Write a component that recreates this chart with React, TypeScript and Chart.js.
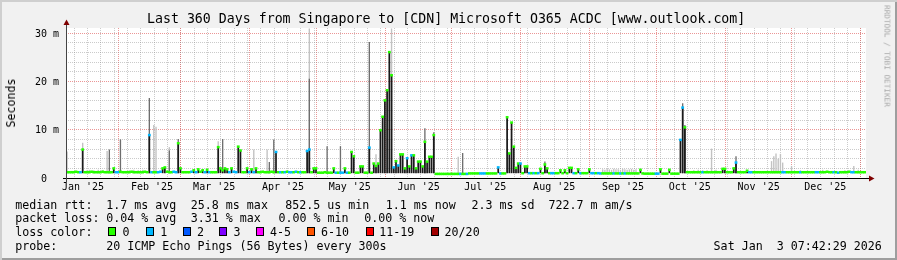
import React, { useEffect, useRef } from 'react';
import { Chart, registerables } from 'chart.js';

Chart.register(...registerables);

// ---------- axis definitions (x in days since 2025-01-01 00:00) ----------
const axisStartDay = 7.32; // Jan 8 2025 07:42
const axisEndDay = 367.32; // Jan 3 2026 07:42
const monthStartDays = [31, 59, 90, 120, 151, 181, 212, 243, 273, 304, 334, 365];
const monthLabelDays = [15, 46, 74, 105, 135, 166, 196, 227, 258, 288, 319, 349];
const monthLabels = ["Jan '25", "Feb '25", "Mar '25", "Apr '25", "May '25", "Jun '25", "Jul '25", "Aug '25", "Sep '25", "Oct '25", "Nov '25", "Dec '25"];
const minorGridFirstDay = 11;
const minorGridStepDays = 6;

const yMaxMs = 31.1;
const yGridStepMs = 2;
const yLabelValues = [0, 10, 20, 30];
const yLabels = ['0  ', '10 m', '20 m', '30 m'];

// ---------- data (milliseconds), one value per day, day 0 = Jan 8 2025 ----------
const medianMs = [
  1.2, 1.2, 1.2, 1.2, 1.3, 1.2, 1.2, 5.9, 1.2, 1.2, 1.2, 1.3, 1.2, 1.2, 1.2, 1.2, 1.3, 1.2, 1.2, 1.2,
  1.2, 2.0, 1.2, 1.2, 1.3, 1.2, 1.2, 1.2, 1.2, 1.3, 1.2, 1.2, 1.2, 1.2, 1.2, 1.3, 1.2, 8.9, 1.2, 1.2,
  1.2, 1.2, 1.3, 2.0, 2.2, 1.3, 1.2, 1.2, 1.3, 1.2, 7.2, 2.0, 1.2, 1.2, 1.2, 1.2, 1.3, 1.6, 1.2, 1.8,
  1.3, 1.6, 1.2, 1.7, 1.2, 1.2, 1.2, 1.2, 6.4, 2.0, 1.6, 2.0, 1.8, 1.2, 2.0, 1.3, 1.2, 6.5, 5.7, 1.2,
  1.2, 2.0, 1.2, 1.8, 1.2, 2.0, 1.2, 1.2, 1.3, 1.2, 1.2, 1.2, 1.3, 1.2, 5.4, 1.2, 1.2, 1.2, 1.2, 1.3,
  1.2, 1.2, 1.2, 1.3, 1.2, 1.2, 1.2, 1.2, 5.6, 5.9, 1.2, 2.0, 2.0, 1.1, 1.1, 1.1, 1.2, 1.1, 1.1, 1.1,
  2.0, 1.1, 1.1, 1.1, 1.1, 2.0, 1.1, 1.1, 5.4, 4.5, 1.1, 1.1, 2.4, 2.4, 1.1, 1.1, 6.3, 1.1, 3.0, 2.5,
  3.0, 9.9, 12.7, 16.1, 18.2, 26.1, 21.3, 2.2, 3.5, 2.6, 4.9, 4.9, 2.0, 4.1, 2.4, 4.7, 4.7, 2.0, 3.4, 3.4,
  2.4, 7.5, 3.4, 4.4, 4.4, 8.9, 0.85, 0.85, 0.85, 0.85, 0.85, 0.85, 0.85, 0.85, 0.85, 0.85, 0.85, 0.85, 0.85, 0.85,
  0.85, 0.95, 0.95, 0.95, 0.95, 0.95, 0.95, 0.95, 0.95, 0.95, 0.95, 0.95, 0.95, 0.95, 2.2, 0.95, 0.95, 0.95, 12.6, 5.1,
  11.5, 6.5, 2.1, 3.0, 3.0, 1.0, 2.4, 2.4, 1.0, 1.0, 1.0, 1.0, 1.0, 1.9, 1.0, 2.8, 2.0, 1.0, 1.0, 1.0,
  1.0, 1.0, 1.6, 1.0, 1.6, 1.0, 2.1, 2.1, 1.0, 1.0, 1.8, 1.0, 1.0, 1.0, 1.0, 1.8, 1.0, 1.0, 1.0, 1.0,
  0.95, 0.95, 0.95, 0.95, 0.95, 0.95, 0.95, 0.95, 0.95, 0.95, 0.95, 0.95, 0.95, 0.95, 0.95, 0.95, 0.95, 0.95, 1.7, 0.95,
  0.9, 0.9, 0.9, 0.9, 0.9, 0.9, 0.9, 1.8, 0.9, 0.9, 0.9, 1.7, 0.9, 0.9, 0.9, 0.9, 7.9, 14.6, 10.5, 1.2,
  1.2, 1.2, 1.2, 1.2, 1.2, 1.2, 1.2, 1.2, 1.2, 1.2, 1.2, 1.2, 1.2, 1.2, 1.2, 1.9, 1.9, 1.2, 1.2, 1.2,
  2.0, 3.2, 1.2, 1.2, 1.2, 1.2, 1.5, 1.2, 1.2, 1.2, 1.2, 1.2, 1.2, 1.2, 1.2, 1.2, 1.2, 1.2, 1.2, 1.2,
  1.2, 1.2, 1.2, 1.2, 1.2, 1.2, 1.2, 1.2, 1.2, 1.2, 1.2, 1.2, 1.2, 1.2, 1.2, 1.2, 1.2, 1.2, 1.2, 1.2,
  1.2, 1.2, 1.3, 1.2, 1.2, 1.2, 1.2, 1.1, 1.2, 1.2, 1.2, 1.2, 1.3, 1.2, 1.2, 1.2, 1.2, 1.2, 1.2, 1.2,
];

// days whose median had 1 lost ping (cyan) — all others 0 loss (green)
const cyanDays = [6, 22, 23, 37, 38, 41, 42, 48, 49, 56, 58, 62, 64, 73, 75, 76, 82, 84, 94, 96, 98, 100, 101, 103, 105, 108, 109, 121, 123, 124, 126, 136, 147, 149, 153, 155, 177, 180, 186, 187, 188, 194, 195, 204, 208, 210, 212, 218, 219, 228, 231, 236, 237, 239, 240, 246, 249, 251, 265, 266, 276, 277, 286, 301, 307, 308, 322, 323, 330, 337, 338, 345, 347, 353, 354];

// smoke (ping spread): dense / medium / sparse
const smokeFloorMs = 1.0;
const darkDays = [7, 21, 37, 43, 44, 50, 51, 57, 59, 61, 63, 68, 69, 70, 71, 72, 74, 77, 78, 81, 83, 85, 94, 108, 109, 111, 112, 120, 125, 128, 129, 132, 133, 136, 138, 139, 140, 141, 142, 143, 144, 145, 146, 147, 148, 149, 150, 151, 152, 153, 154, 155, 156, 157, 158, 159, 160, 161, 162, 163, 164, 165, 194, 198, 199, 200, 201, 202, 203, 204, 206, 207, 213, 215, 216, 222, 224, 226, 227, 230, 235, 258, 267, 271, 276, 277, 278, 295, 296, 300, 301, 306];
const darkTopMs = [5.9, 2.0, 8.9, 2.0, 2.2, 7.2, 2.0, 1.6, 1.8, 1.6, 1.7, 6.4, 2.0, 1.6, 2.0, 1.8, 2.0, 6.5, 5.7, 2.0, 1.8, 2.0, 5.4, 5.6, 5.9, 2.0, 2.0, 2.0, 2.0, 5.4, 4.5, 2.4, 2.4, 6.3, 3.0, 2.5, 3.0, 9.9, 12.7, 16.1, 18.2, 26.1, 21.3, 2.2, 3.5, 2.6, 4.9, 4.9, 2.0, 4.1, 2.4, 4.7, 4.7, 2.0, 3.4, 3.4, 2.4, 7.5, 3.4, 4.4, 4.4, 8.9, 2.2, 12.6, 5.1, 11.5, 6.5, 2.1, 3.0, 3.0, 2.4, 2.4, 1.9, 2.8, 2.0, 1.6, 1.6, 2.1, 2.1, 1.8, 1.8, 1.7, 1.8, 1.7, 7.9, 14.6, 10.5, 1.9, 1.9, 2.0, 3.2, 1.5];
const greyDays = [19, 24, 37, 46, 50, 70, 91, 93, 109, 117, 123, 136, 161, 165, 178, 215, 277, 278, 301];
const greyTopMs = [5.9, 8.0, 16.6, 5.7, 8.1, 8.1, 3.3, 8.0, 20.6, 6.6, 6.6, 28.2, 10.3, 9.5, 5.2, 3.4, 15.5, 11.0, 4.5];
const lightDays = [0, 7, 9, 10, 12, 14, 16, 18, 28, 30, 32, 34, 39, 40, 46, 68, 84, 90, 109, 139, 146, 176, 241, 242, 243, 244, 245, 246, 247, 248, 249, 250, 251, 252, 253, 254, 255, 256, 282, 284, 286, 288, 290, 292, 317, 318, 319, 320, 321, 322, 326, 330, 340, 350, 354, 356];
const lightTopMs = [5.5, 7.3, 1.6, 1.7, 1.6, 1.7, 1.6, 5.6, 1.6, 1.7, 1.6, 1.7, 11.0, 10.6, 6.4, 7.6, 5.9, 5.9, 31, 4.9, 31, 4.4, 1.8, 1.7, 1.9, 1.8, 1.7, 1.9, 1.8, 1.8, 1.7, 1.9, 1.8, 1.7, 1.8, 1.9, 1.7, 1.8, 1.6, 1.7, 1.6, 1.6, 6.1, 1.7, 3.5, 4.5, 5.1, 4.0, 5.0, 3.2, 2.5, 1.6, 1.7, 1.6, 2.5, 1.7];

// ---------- legend text ----------
const titleText = 'Last 360 Days from Singapore to [CDN] Microsoft O365 ACDC [www.outlook.com]';
const legendRow1: [number, string][] = [[15.3, 'median rtt:'], [106.3, '1.7 ms avg'], [190.8, '25.8 ms max'], [285.2, '852.5 us min'], [385.8, '1.1 ms now'], [471.4, '2.3 ms sd'], [548.5, '722.7 m am/s']];
const legendRow2: [number, string][] = [[15.3, 'packet loss:'], [106.3, '0.04 % avg'], [190.8, '3.31 % max'], [278.5, '0.00 % min'], [364.2, '0.00 % now']];
const lossLabels = ['0', '1', '2', '3', '4-5', '6-10', '11-19', '20/20'];
const lossColors = ['#26ff00', '#00b8ff', '#0059ff', '#7e00ff', '#ff00ff', '#ff5500', '#ff0000', '#a10000'];
const lossBoxX = [108.3, 145.7, 182.7, 219.3, 256, 307.3, 365.7, 431];
const lossLabelX = [122.6, 160.3, 197, 233.6, 270, 321, 379.3, 444.6];
const probeText = '20 ICMP Echo Pings (56 Bytes) every 300s';
const dateText = 'Sat Jan  3 07:42:29 2026';

const MONO = "'DejaVu Sans Mono', monospace";
const GREEN = lossColors[0];
const CYAN = lossColors[1];
const minorGridColor = 'rgba(140,140,140,0.45)';
const majorGridColor = 'rgba(222,80,80,0.6)';

const dayX = (i: number) => axisStartDay + i + 0.5;

const framePlugin = {
  id: 'rrdFrame',
  beforeDraw(chart: any) {
    const { ctx, chartArea: a } = chart;
    ctx.save();
    ctx.fillStyle = '#ffffff';
    ctx.fillRect(a.left, a.top, a.right - a.left, a.bottom - a.top);
    ctx.restore();
  },
  afterDraw(chart: any) {
    const { ctx, chartArea: a } = chart;
    const yAx = a.left + 0.5;
    const xAx = a.bottom + 0.5;
    ctx.save();
    ctx.lineWidth = 1;
    ctx.strokeStyle = '#000000';
    ctx.beginPath();
    ctx.moveTo(a.left - 3, xAx);
    ctx.lineTo(a.right + 3, xAx);
    ctx.stroke();
    ctx.strokeStyle = '#444444';
    ctx.beginPath();
    ctx.moveTo(yAx, a.bottom + 4);
    ctx.lineTo(yAx, a.top - 3);
    ctx.stroke();
    ctx.fillStyle = '#7f0000';
    ctx.beginPath();
    ctx.moveTo(a.right + 3, xAx - 3);
    ctx.lineTo(a.right + 8.5, xAx);
    ctx.lineTo(a.right + 3, xAx + 3);
    ctx.closePath();
    ctx.fill();
    ctx.beginPath();
    ctx.moveTo(yAx - 3, a.top - 3);
    ctx.lineTo(yAx, a.top - 8.5);
    ctx.lineTo(yAx + 3, a.top - 3);
    ctx.closePath();
    ctx.fill();
    ctx.restore();
  },
};

export default function App() {
  const canvasRef = useRef<HTMLCanvasElement>(null);

  useEffect(() => {
    const canvas = canvasRef.current;
    if (!canvas) return;
    const cyanSet = new Set(cyanDays);

    const medianData = medianMs.map((v, i) => ({ x: dayX(i), y: v }));
    const darkData = darkDays.map((d, i) => ({ x: dayX(d), y: [smokeFloorMs, darkTopMs[i]] }));
    const greyData = greyDays.map((d, i) => ({ x: dayX(d), y: [smokeFloorMs, greyTopMs[i]] }));
    const lightData = lightDays.map((d, i) => ({ x: dayX(d), y: [smokeFloorMs, lightTopMs[i]] }));

    const barCommon = {
      type: 'bar' as const,
      grouped: false,
      categoryPercentage: 1,
      borderWidth: 0,
    };

    const minorGridDays: number[] = [];
    for (let d = minorGridFirstDay; d < axisEndDay; d += minorGridStepDays) minorGridDays.push(d);
    const yGridValues: number[] = [];
    for (let v = 0; v <= yMaxMs; v += yGridStepMs) yGridValues.push(v);

    const chart = new Chart(canvas, {
      type: 'bar',
      data: {
        datasets: [
          {
            type: 'line',
            label: 'median',
            data: medianData as any,
            showLine: false,
            pointStyle: 'line',
            pointRadius: 1.4,
            pointBorderWidth: 2.5,
            pointBorderColor: (c: any) => (cyanSet.has(c.dataIndex) ? CYAN : GREEN),
            order: 0,
          } as any,
          { ...barCommon, barPercentage: 0.78, label: 'dense smoke', data: darkData as any, backgroundColor: '#1a1a1a', order: 1 },
          { ...barCommon, barPercentage: 0.6, label: 'smoke', data: greyData as any, backgroundColor: '#6e6e6e', order: 2 },
          { ...barCommon, barPercentage: 0.62, label: 'sparse smoke', data: lightData as any, backgroundColor: '#c2c2c2', order: 3 },
        ],
      },
      options: {
        responsive: false,
        maintainAspectRatio: false,
        devicePixelRatio: 1,
        animation: false,
        events: [],
        layout: { padding: { left: 0, top: 28, right: 31, bottom: 62 } },
        plugins: { legend: { display: false }, tooltip: { enabled: false }, title: { display: false } },
        scales: {
          x: {
            type: 'linear',
            min: axisStartDay,
            max: axisEndDay,
            offset: false,
            afterFit: (s: any) => {
              s.height = 20;
            },
            afterBuildTicks: (s: any) => {
              const t: any[] = [];
              monthLabelDays.forEach((d, i) => t.push({ value: d, lbl: monthLabels[i], kind: 'label' }));
              minorGridDays.forEach((d) => t.push({ value: d, kind: 'minor' }));
              monthStartDays.forEach((d) => t.push({ value: d, kind: 'major' }));
              s.ticks = t;
            },
            ticks: {
              autoSkip: false,
              maxRotation: 0,
              minRotation: 0,
              padding: 3,
              color: '#000000',
              font: { family: MONO, size: 10, lineHeight: 1.2 },
              callback: (_v: any, i: number, ticks: any[]) => (ticks[i] && ticks[i].lbl) || '',
            },
            grid: {
              offset: false,
              drawTicks: false,
              tickLength: 0,
              lineWidth: 1,
              color: (c: any) => {
                const k = c.tick && c.tick.kind;
                if (k === 'major') return majorGridColor;
                if (k === 'minor') return minorGridColor;
                return 'rgba(0,0,0,0)';
              },
            },
            border: { display: false, dash: [1, 1] },
          } as any,
          y: {
            type: 'linear',
            min: 0,
            max: yMaxMs,
            afterFit: (s: any) => {
              s.width = 66;
            },
            afterBuildTicks: (s: any) => {
              s.ticks = yGridValues.map((v) => ({ value: v }));
            },
            ticks: {
              autoSkip: false,
              padding: 7,
              labelOffset: 1,
              color: '#000000',
              font: { family: MONO, size: 10, lineHeight: 1.2 },
              callback: (v: any) => {
                const i = yLabelValues.indexOf(Number(v));
                return i >= 0 ? yLabels[i] : '';
              },
            },
            grid: {
              drawTicks: false,
              tickLength: 0,
              lineWidth: 1,
              color: (c: any) => (c.tick && c.tick.value % 10 === 0 ? majorGridColor : minorGridColor),
            },
            border: { display: false, dash: [1, 1] },
          } as any,
        },
      },
      plugins: [framePlugin as any],
    });

    return () => chart.destroy();
  }, []);

  const legendStyle = (left: number, top: number): React.CSSProperties => ({
    position: 'absolute',
    left,
    top,
    fontFamily: MONO,
    fontSize: 11.65,
    lineHeight: '14px',
    whiteSpace: 'pre',
    color: '#000',
  });

  return (
    <div
      style={{
        position: 'absolute',
        left: 0,
        top: 0,
        width: 897,
        height: 260,
        overflow: 'hidden',
        background: '#f1f1f1',
        boxShadow: 'inset 2px 2px 0 #cfcfcf, inset -2px -2px 0 #9e9e9e',
      }}
    >
      <canvas ref={canvasRef} width={897} height={260} style={{ position: 'absolute', left: 0, top: 0, width: 897, height: 260 }} />
      <div style={{ position: 'absolute', left: 147, top: 10.9, fontFamily: MONO, fontSize: 13.25, lineHeight: '16px', whiteSpace: 'pre', color: '#000' }}>{titleText}</div>
      <div
        style={{
          position: 'absolute',
          left: 11.2,
          top: 102.5,
          transform: 'translate(-50%, -50%) rotate(-90deg)',
          fontFamily: MONO,
          fontSize: 11.65,
          lineHeight: '14px',
          whiteSpace: 'pre',
          color: '#000',
        }}
      >
        Seconds
      </div>
      <div
        style={{
          position: 'absolute',
          left: 887,
          top: 56,
          transform: 'translate(-50%, -50%) rotate(90deg)',
          fontFamily: MONO,
          fontSize: 7.7,
          lineHeight: '9px',
          whiteSpace: 'pre',
          color: '#a8a8a8',
        }}
      >
        RRDTOOL / TOBI OETIKER
      </div>
      {legendRow1.map(([x, t]) => (
        <div key={'r1' + x} style={legendStyle(x, 197.9)}>{t}</div>
      ))}
      {legendRow2.map(([x, t]) => (
        <div key={'r2' + x} style={legendStyle(x, 211.3)}>{t}</div>
      ))}
      <div style={legendStyle(15.3, 225.2)}>loss color:</div>
      {lossLabels.map((l, i) => (
        <React.Fragment key={'lc' + i}>
          <div
            style={{
              position: 'absolute',
              left: lossBoxX[i],
              top: 227.4,
              width: 8,
              height: 9,
              boxSizing: 'border-box',
              border: '1px solid #000',
              background: lossColors[i],
            }}
          />
          <div style={legendStyle(lossLabelX[i], 225.2)}>{l}</div>
        </React.Fragment>
      ))}
      <div style={legendStyle(15.3, 239.4)}>probe:</div>
      <div style={legendStyle(106.3, 239.4)}>{probeText}</div>
      <div style={{ ...legendStyle(0, 239.4), left: 'auto', right: 897 - 881.8 }}>{dateText}</div>
    </div>
  );
}
